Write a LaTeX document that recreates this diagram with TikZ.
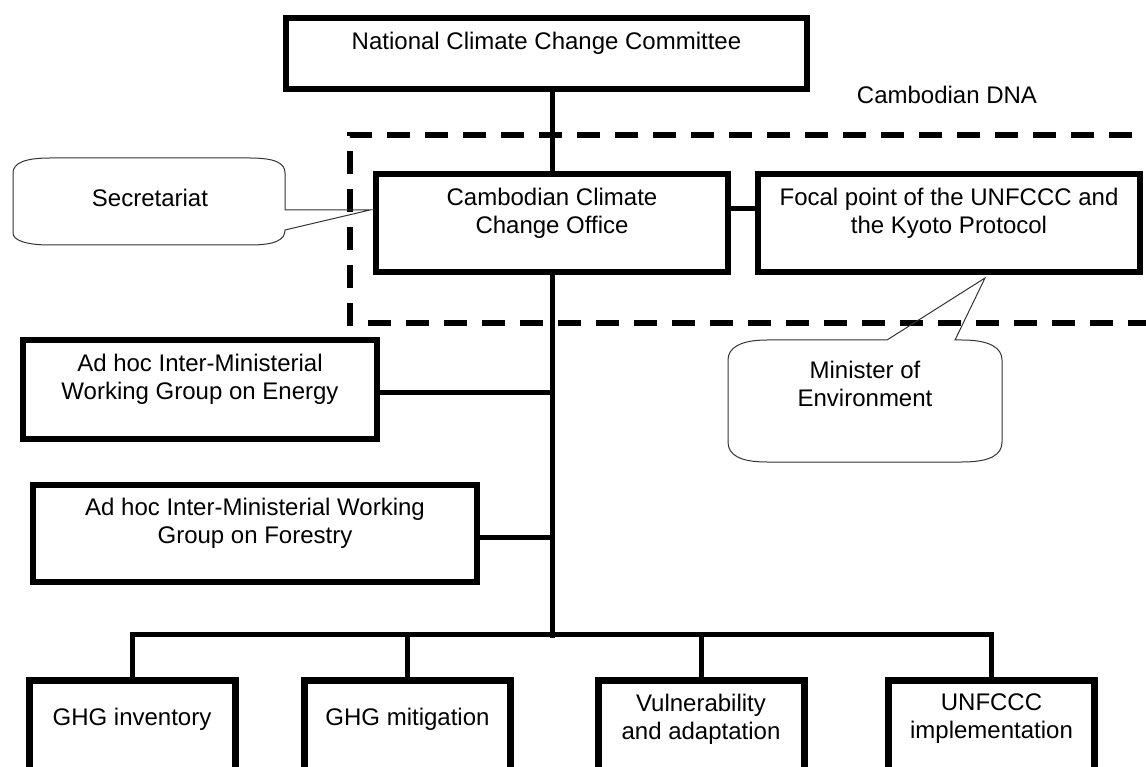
\documentclass[tikz,border=0pt]{standalone}
\usepackage{fontspec}
\setmainfont{Liberation Sans}
\tikzset{
    orgbox/.style={
      rectangle,
           draw=black, line width=6pt,
           inner sep=4pt,
           align=center,
           text depth=25pt,
           },
}
\tikzset{
    unitbox/.style={
      rectangle,
           draw=black, line width=7pt,
           inner sep=4pt,
           align=center,
           minimum width=206pt,
           minimum height=150pt,
           text depth=78pt,
           },
}
\tikzset{
    wire/.style={
      draw=black, line width=5pt,
           },
}
\tikzset{
    bubble/.style={
      draw=black!80, line width=1pt,
           },
}
\tikzset{
    dnaframe/.style={
      draw=black, line width=6pt,
           dash pattern=on 23pt off 15pt,
           },
}
\begin{document}
\begin{tikzpicture}[x=1pt,y=-1pt,font=\fontsize{24}{28}\selectfont]
\useasboundingbox (0,0) rectangle (1146,767);

% DNA frame, open to the right
\draw[dnaframe] (1170,135) -- (350,135) -- (350,323) -- (1170,323);
\node (dna) at (947,95) {Cambodian DNA};

\node[orgbox,minimum width=521pt,minimum height=71pt] (ncc) at (546.5,53.5) {National Climate Change Committee};
\node[orgbox,minimum width=352pt,minimum height=98pt] (office) at (552,223) {Cambodian Climate\\Change Office};
\node[orgbox,minimum width=382pt,minimum height=98pt] (focal) at (949,223) {Focal point of the UNFCCC and\\the Kyoto Protocol};

\node[orgbox,minimum width=354pt,minimum height=99pt] (energy) at (200,389.5) {Ad hoc Inter-Ministerial\\Working Group on Energy};
\node[orgbox,minimum width=444pt,minimum height=97pt] (forestry) at (255,533.5) {Ad hoc Inter-Ministerial Working\\Group on Forestry};

\node[unitbox] (inv) at (132,755.5) {GHG inventory};
\node[unitbox] (mit) at (407.5,755.5) {GHG mitigation};
\node[unitbox] (vul) at (701,755.5) {Vulnerability\\and adaptation};
\node[unitbox] (unf) at (991.5,755.5) {UNFCCC\\implementation};

\coordinate (hub) at (552,634);

\path (ncc.south -| office.north) edge[wire] (office.north);
\path (office.south) edge[wire] ([yshift=-4pt]hub);
\path ([yshift=14pt]office.east) edge[wire] ([yshift=14pt]focal.west);
\path ([yshift=-3pt]energy.east) edge[wire] ([yshift=-3pt]energy.east -| hub);
\path ([yshift=-4pt]forestry.east) edge[wire] ([yshift=-4pt]forestry.east -| hub);

\draw[wire] (inv.north) |- (hub) -| (unf.north);
\path (mit.north) edge[wire] (mit.north |- hub);
\path (vul.north) edge[wire] (vul.north |- hub);

% callouts
\coordinate (sectip) at (370,210);
\draw[bubble] (50,158) -- (250,158) .. controls (275,158) and (285,163) .. (285,173) -- (285,210) -- (sectip) -- (285,230) .. controls (285,240) and (275,245) .. (250,245) -- (50,245) .. controls (25,245) and (13,240) .. (13,233) -- (13,173) .. controls (13,163) and (25,158) .. (50,158) -- cycle;
\node (sec) at (150,198) {Secretariat};

\coordinate (mintip) at (985,278);
\draw[bubble] (767,340) -- (887,340) -- (mintip) -- (955,340) -- (962,340) .. controls (990,340) and (1002,348) .. (1002,360) -- (1002,442) .. controls (1002,455) and (990,462) .. (962,462) -- (767,462) .. controls (740,462) and (728,455) .. (728,442) -- (728,360) .. controls (728,348) and (740,340) .. (767,340) -- cycle;
\node[align=center] (minister) at (865,384) {Minister of\\Environment};

\end{tikzpicture}
\end{document}
